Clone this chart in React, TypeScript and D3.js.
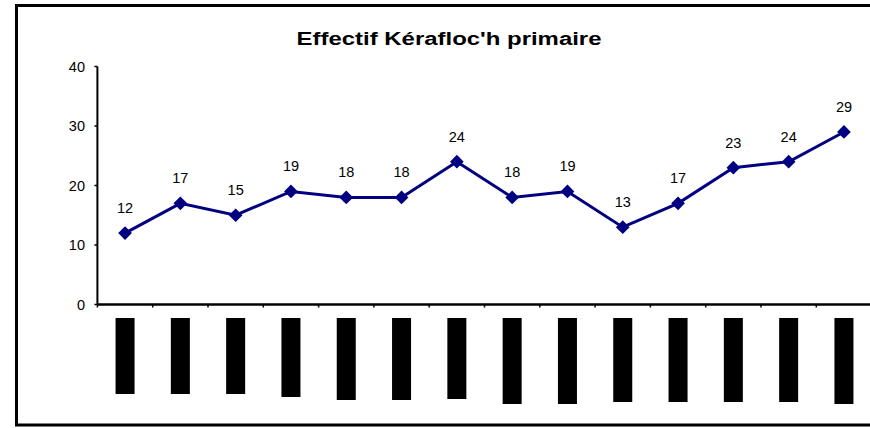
import React from "react";
import * as d3 from "d3";

const categories = ["1", "2", "3", "4", "5", "6", "7", "8", "9", "10", "11", "12", "13", "14"];
const effectif = [12, 17, 15, 19, 18, 18, 24, 18, 19, 13, 17, 23, 24, 29];
const yTicks = [0, 10, 20, 30, 40];
// lengths of the (unreadable, blacked-out) rotated category labels
const labelBlockLengths = [76, 76, 76, 79, 82, 82, 81, 86, 86, 84, 84, 84, 84, 86];
const title = "Effectif Kérafloc'h primaire";

export default function App() {
  const W = 870, H = 428;
  const left = 97.4, right = 871.6, top = 66.5, bottom = 304.5;
  const x = d3.scaleBand<string>().domain(categories).range([left, right]).padding(0);
  const y = d3.scaleLinear().domain([0, 40]).range([bottom, top]);
  const cx = (i: number) => (x(categories[i]) as number) + x.bandwidth() / 2;
  const line = d3.line<number>().x((_, i) => cx(i)).y((d) => y(d));
  const diamond = d3.symbol().type(d3.symbolDiamond2 || d3.symbolDiamond).size(120)();
  const font = "'Liberation Sans', Arial, sans-serif";

  return (
    <svg width={W} height={H} style={{ position: "absolute", left: 0, top: 0 }}>
      <rect x={0} y={0} width={W} height={H} fill="#fff" />
      <rect x={16.5} y={5.5} width={W} height={419.5} fill="none" stroke="#000" strokeWidth={3} />
      <text x={449} y={45} textAnchor="middle" fontFamily={font} fontWeight="bold" fontSize={18}
        textLength={305} lengthAdjust="spacingAndGlyphs">{title}</text>
      {/* y axis */}
      <line x1={left} x2={left} y1={top} y2={bottom} stroke="#000" strokeWidth={2} />
      {yTicks.map((t) => (
        <g key={t}>
          <line x1={left - 3} x2={left} y1={y(t)} y2={y(t)} stroke="#000" strokeWidth={1.5} />
          <text x={85} y={y(t) + 5} textAnchor="end" fontFamily={font} fontSize={14.5}>{t}</text>
        </g>
      ))}
      {/* x axis */}
      <line x1={left} x2={right} y1={bottom} y2={bottom} stroke="#000" strokeWidth={2.5} />
      {categories.map((c) => (
        <line key={c} x1={x(c) as number} x2={x(c) as number} y1={bottom} y2={bottom + 3} stroke="#000" strokeWidth={1.5} />
      ))}
      {categories.map((c, i) => (
        <rect key={"b" + c} x={cx(i) - 9.5} y={318} width={19} height={labelBlockLengths[i]} fill="#000" />
      ))}
      <path d={line(effectif) as string} fill="none" stroke="#000080" strokeWidth={3} />
      {effectif.map((v, i) => (
        <g key={"m" + i}>
          <path d={diamond as string} transform={`translate(${cx(i)},${y(v)})`} fill="#000080" />
          <text x={cx(i)} y={y(v) - 20} textAnchor="middle" fontFamily={font} fontSize={14.5}>{v}</text>
        </g>
      ))}
    </svg>
  );
}
